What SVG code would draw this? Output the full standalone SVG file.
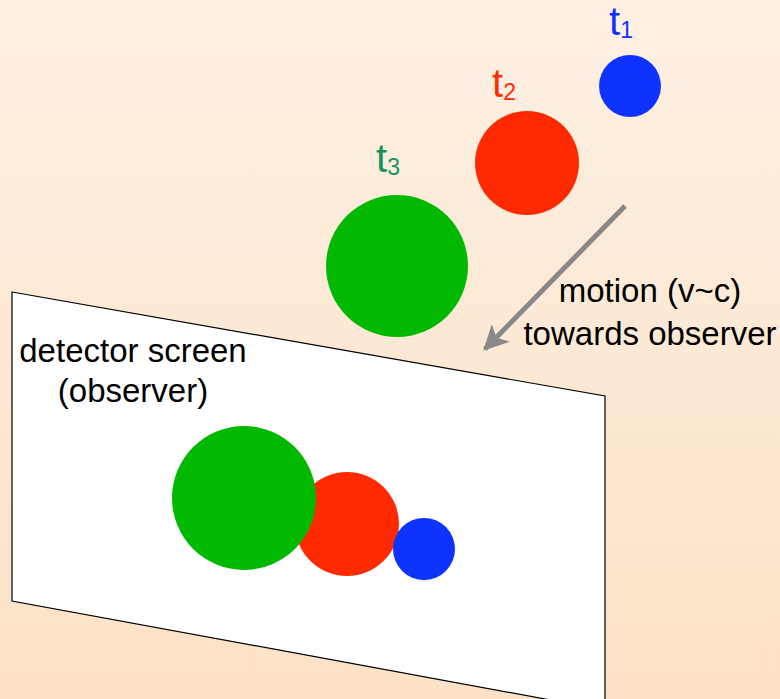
<svg xmlns="http://www.w3.org/2000/svg" width="780" height="699" viewBox="0 0 780 699">
  <defs>
    <linearGradient id="bg" x1="0" y1="0" x2="0" y2="1">
      <stop offset="0" stop-color="#fdf0e3"/>
      <stop offset="1" stop-color="#fce2c6"/>
    </linearGradient>
    <marker id="head" viewBox="0 0 10 10" refX="9" refY="5" markerWidth="5" markerHeight="5" orient="auto" markerUnits="strokeWidth">
      <path d="M0,0 L10,5 L0,10 L2.5,5 Z" fill="#888888"/>
    </marker>
    <style>
      text { font-family: "Liberation Sans", Arial, Helvetica, sans-serif; }
      .lbl { font-size: 33px; fill: #000; }
      .tsym { font-size: 40px; }
      .sub { font-size: 23px; }
      .blue { fill: #0f33ff; }
      .red { fill: #ff2a00; }
      .green { fill: #00b900; }
      .screen { fill: #ffffff; stroke: #000; stroke-width: 1.2; }
    </style>
  </defs>

  <rect width="780" height="699" fill="url(#bg)"/>

  <!-- detector screen panel -->
  <g id="screen">
    <polygon class="screen" points="12,292 605,396 605,710 12,601"/>
    <text class="lbl" x="133" y="362" text-anchor="middle">detector screen</text>
    <text class="lbl" x="133" y="402" text-anchor="middle">(observer)</text>
  </g>

  <!-- images recorded on the screen (t2 image lies beneath the others) -->
  <g id="image-t2"><circle class="red" cx="347" cy="524" r="52"/></g>
  <g id="image-t3"><circle class="green" cx="244" cy="498" r="72"/></g>
  <g id="image-t1"><circle class="blue" cx="424" cy="549" r="31"/></g>

  <!-- sphere positions at successive times -->
  <g id="sphere-t1">
    <circle class="blue" cx="630" cy="86" r="31"/>
    <text class="blue" x="609" y="35"><tspan class="tsym">t</tspan><tspan class="sub" dy="3">1</tspan></text>
  </g>
  <g id="sphere-t2">
    <circle class="red" cx="527" cy="163" r="52"/>
    <text class="red" x="492" y="97"><tspan class="tsym">t</tspan><tspan class="sub" dy="3">2</tspan></text>
  </g>
  <g id="sphere-t3">
    <circle class="green" cx="397" cy="266" r="71"/>
    <text style="fill:#14935a" x="376" y="172"><tspan class="tsym">t</tspan><tspan class="sub" dy="3">3</tspan></text>
  </g>

  <!-- direction of motion -->
  <g id="connectors">
    <line x1="625" y1="206" x2="485" y2="349" stroke="#888888" stroke-width="5" marker-end="url(#head)"/>
  </g>
  <g id="motion-label">
    <text class="lbl" x="650" y="302" text-anchor="middle">motion (v~c)</text>
    <text class="lbl" x="650" y="345" text-anchor="middle">towards observer</text>
  </g>
</svg>
